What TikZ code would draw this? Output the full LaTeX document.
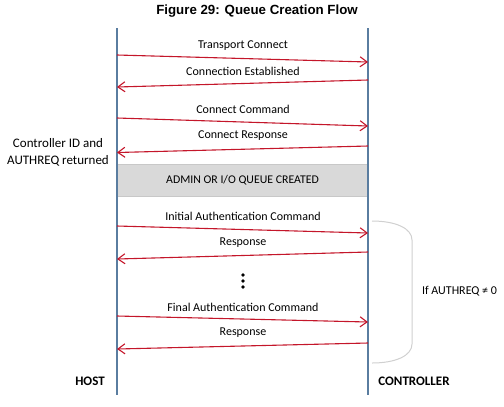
\documentclass[tikz,border=0pt]{standalone}
\usepackage{fontspec}
\setmainfont{Carlito}
\newfontfamily\titlefont{Liberation Sans}
\usetikzlibrary{arrows.meta}
\definecolor{msgred}{RGB}{196,22,42}
\definecolor{lifeblue}{RGB}{90,125,160}
\definecolor{boxgray}{RGB}{217,217,217}
\definecolor{boxedge}{RGB}{200,200,200}
\definecolor{bracegray}{RGB}{208,208,208}
\tikzset{
  msg/.style={draw=msgred, line width=1.1bp, -{Straight Barb[length=7bp,width=10bp,line width=1.1bp]}},
  lbl/.style={font=\fontsize{12bp}{14bp}\selectfont, inner sep=0pt, anchor=center},
  life/.style={draw=lifeblue, line width=1.4bp},
  actor/.style={font=\fontsize{13bp}{15bp}\selectfont\bfseries, inner sep=0pt},
  dot/.style={circle, fill=black, inner sep=0pt, minimum size=3.6bp}
}
\begin{document}
\begin{tikzpicture}[x=1bp, y=-1bp]
\useasboundingbox (0,0) rectangle (504,406);
% title
\node[font=\titlefont\fontsize{13.3bp}{15bp}\selectfont\bfseries, inner sep=0pt] (title) at (257,11) {Figure 29: Queue Creation Flow};
% gray box
\node[draw=boxedge, fill=boxgray, line width=0.8bp, minimum width=251bp, minimum height=32bp, inner sep=0pt, font=\fontsize{11.8bp}{13bp}\selectfont] (box) at (242.5,180) {ADMIN OR I/O QUEUE CREATED};
% lifelines
\coordinate (htop) at (117,28);
\coordinate (hbot) at (117,395);
\coordinate (ctop) at (368,28);
\coordinate (cbot) at (368,395);
\draw[life] (htop) -- (hbot);
\draw[life] (ctop) -- (cbot);
% message endpoints
\coordinate (h1) at (117,55);  \coordinate (c1) at (368,62);
\coordinate (c2) at (368,80);  \coordinate (h2) at (117,87);
\coordinate (h3) at (117,118); \coordinate (c3) at (368,126);
\coordinate (c4) at (368,146); \coordinate (h4) at (117,152.5);
\coordinate (h5) at (117,226); \coordinate (c5) at (368,233);
\coordinate (c6) at (368,252); \coordinate (h6) at (117,259);
\coordinate (h7) at (117,316); \coordinate (c7) at (368,322);
\coordinate (c8) at (368,343); \coordinate (h8) at (117,349);
\draw[msg] (h1) -- (c1);
\draw[msg] (c2) -- (h2);
\draw[msg] (h3) -- (c3);
\draw[msg] (c4) -- (h4);
\draw[msg] (h5) -- (c5);
\draw[msg] (c6) -- (h6);
\draw[msg] (h7) -- (c7);
\draw[msg] (c8) -- (h8);
% labels
\node[lbl] (l1) at (243,46) {Transport Connect};
\node[lbl] (l2) at (243,71) {Connection Established};
\node[lbl] (l3) at (243,109) {Connect Command};
\node[lbl] (l4) at (243,136) {Connect Response};
\node[lbl] (l5) at (243,216.5) {Initial Authentication Command};
\node[lbl] (l6) at (243,243) {Response};
\node[lbl] (l7) at (243,307) {Final Authentication Command};
\node[lbl] (l8) at (243,333) {Response};
% dots
\node[dot] (d1) at (243,275) {};
\node[dot] (d2) at (243,281) {};
\node[dot] (d3) at (243,287) {};
% left note
\node[font=\fontsize{13bp}{17bp}\selectfont, align=center, inner sep=0pt] (note) at (58,152) {Controller ID and\\AUTHREQ returned};
% brace
\coordinate (btop) at (372,221);
\coordinate (bbot) at (372,363);
\draw[draw=bracegray, line width=1bp] (btop) .. controls (395,221) and (412,228) .. (412,240) -- (412,344) .. controls (412,356) and (395,363) .. (bbot);
\node[lbl] (cond) at (459.5,291) {If AUTHREQ ≠ 0};
% actors
\node[actor] (host) at (90,381) {HOST};
\node[actor] (ctrl) at (414,381) {CONTROLLER};
\end{tikzpicture}
\end{document}
